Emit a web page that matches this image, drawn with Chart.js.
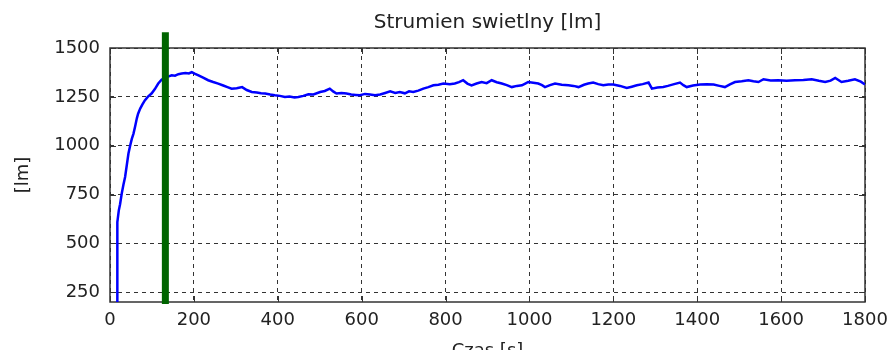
<!DOCTYPE html>
<html lang="pl">
<head>
<meta charset="UTF-8">
<title>Strumien swietlny</title>
<script src="https://cdn.jsdelivr.net/npm/chart.js"></script>
<style>
    html, body { margin: 0; padding: 0; background: #fff; }
    .wrap { width: 893px; height: 350px; overflow: hidden; }
    canvas { display: block; }
</style>
</head>
<body>
<div class="wrap"><canvas id="flux" width="893" height="372"></canvas></div>
<script>
// time of measurement [s]
const times = [
    17, 17, 18, 21, 24, 28, 32, 36, 40, 44,
    48, 52, 56, 60, 64, 67, 72, 77, 83, 90,
    99, 107, 115, 123, 132, 140, 147, 155, 163, 171,
    180, 188, 195, 203, 211, 222, 234, 246, 258, 270,
    280, 290, 302, 315, 326, 338, 350, 360, 370, 382,
    393, 405, 417, 428, 440, 449, 461, 473, 485, 501,
    512, 524, 532, 540, 552, 564, 575, 586, 596, 608,
    620, 632, 644, 656, 668, 680, 691, 703, 713, 723,
    735, 747, 759, 771, 783, 795, 810, 822, 832, 842,
    852, 862, 874, 886, 898, 910, 922, 934, 946, 958,
    970, 982, 990, 997, 1009, 1021, 1030, 1037, 1049, 1061,
    1077, 1093, 1105, 1117, 1130, 1140, 1152, 1164, 1176, 1188,
    1200, 1216, 1232, 1244, 1256, 1270, 1284, 1292, 1305, 1319,
    1330, 1345, 1359, 1367, 1375, 1390, 1407, 1423, 1439, 1453,
    1466, 1478, 1490, 1506, 1522, 1534, 1546, 1558, 1575, 1593,
    1613, 1633, 1653, 1673, 1690, 1705, 1718, 1729, 1744, 1760,
    1776, 1790, 1800
];

// luminous flux [lm]
const flux = [
    200, 450, 609, 669, 700, 755, 800, 840, 900, 960,
    1000, 1035, 1062, 1100, 1140, 1164, 1190, 1210, 1232, 1250,
    1267, 1290, 1318, 1338, 1350, 1355, 1360, 1358, 1366, 1369,
    1372, 1370, 1377, 1368, 1360, 1348, 1335, 1326, 1318, 1308,
    1300, 1292, 1294, 1300, 1285, 1275, 1272, 1268, 1267, 1262,
    1258, 1255, 1249, 1252, 1247, 1249, 1255, 1263, 1262, 1275,
    1280, 1292, 1278, 1267, 1270, 1267, 1262, 1260, 1258, 1265,
    1262, 1258, 1262, 1270, 1278, 1270, 1275, 1268, 1278, 1275,
    1282, 1292, 1300, 1309, 1312, 1318, 1314, 1318, 1325, 1335,
    1318, 1309, 1318, 1326, 1320, 1335, 1325, 1318, 1310, 1300,
    1306, 1309, 1318, 1326, 1322, 1318, 1310, 1300, 1310, 1318,
    1312, 1309, 1306, 1300, 1312, 1318, 1323, 1315, 1309, 1313,
    1313, 1306, 1295, 1302, 1309, 1315, 1323, 1292, 1298, 1300,
    1306, 1315, 1323, 1310, 1300, 1308, 1313, 1315, 1313, 1306,
    1300, 1314, 1326, 1330, 1335, 1330, 1326, 1340, 1334, 1335,
    1332, 1335, 1336, 1340, 1332, 1326, 1333, 1347, 1326, 1332,
    1340, 1328, 1313
];

const xTicks = [0, 200, 400, 600, 800, 1000, 1200, 1400, 1600, 1800];
const yTicks = [250, 500, 750, 1000, 1250, 1500];

// vertical marker (green bar)
const markerTime = 132;
const markerSpan = [190, 1580];

const FONT = 'DejaVu Sans';

// box around the plot + short inward tick marks, matlab style
const frame = {
    id: 'frame',
    beforeDatasetsDraw(chart) {
        const { ctx, chartArea: a, scales: { x, y } } = chart;
        ctx.save();
        ctx.strokeStyle = '#333';
        ctx.lineWidth = 1.5;
        ctx.strokeRect(a.left, a.top, a.right - a.left, a.bottom - a.top);
        ctx.lineWidth = 1;
        ctx.beginPath();
        x.ticks.forEach(t => {
            const px = Math.round(x.getPixelForValue(t.value)) + 0.5;
            ctx.moveTo(px, a.bottom); ctx.lineTo(px, a.bottom - 6);
            ctx.moveTo(px, a.top); ctx.lineTo(px, a.top + 6);
        });
        y.ticks.forEach(t => {
            const py = Math.round(y.getPixelForValue(t.value)) + 0.5;
            ctx.moveTo(a.left, py); ctx.lineTo(a.left + 6, py);
            ctx.moveTo(a.right, py); ctx.lineTo(a.right - 6, py);
        });
        ctx.stroke();
        ctx.restore();
    }
};

new Chart(document.getElementById('flux'), {
    type: 'line',
    data: {
        datasets: [
            {
                data: markerSpan.map(v => ({ x: markerTime, y: v })),
                borderColor: '#006400',
                borderWidth: 7,
                pointRadius: 0,
                clip: false
            },
            {
                data: times.map((t, i) => ({ x: t, y: flux[i] })),
                borderColor: '#0000ff',
                borderWidth: 2.5,
                pointRadius: 0,
                tension: 0
            }
        ]
    },
    options: {
        responsive: false,
        animation: false,
        devicePixelRatio: 1,
        layout: { padding: { top: 4, left: 0, right: 28, bottom: 0 } },
        plugins: {
            legend: { display: false },
            tooltip: { enabled: false },
            title: {
                display: true,
                text: 'Strumien swietlny [lm]',
                fullSize: false,
                color: '#222',
                font: { family: FONT, size: 20, weight: 'normal' },
                padding: { top: 7, bottom: 13 }
            }
        },
        scales: {
            x: {
                type: 'linear',
                min: 0,
                max: 1800,
                afterBuildTicks: s => { s.ticks = xTicks.map(v => ({ value: v })); },
                afterFit: s => {
                    s.height = 70;
                    // let the last label hang into the right margin
                    s.paddingLeft = 0;
                    s.paddingRight = 0;
                },
                ticks: {
                    color: '#222',
                    padding: 8,
                    maxRotation: 0,
                    autoSkip: false,
                    font: { family: FONT, size: 18 },
                    callback: v => String(v)
                },
                grid: { color: '#333', lineWidth: 1, drawTicks: false },
                border: { display: false, dash: [4, 4] },
                title: {
                    display: true,
                    text: 'Czas [s]',
                    color: '#222',
                    font: { family: FONT, size: 18 },
                    padding: { top: 4, bottom: 10 }
                }
            },
            y: {
                min: 200,
                max: 1500,
                afterBuildTicks: s => { s.ticks = yTicks.map(v => ({ value: v })); },
                afterFit: s => { s.width = 110; },
                ticks: {
                    color: '#222',
                    padding: 10,
                    font: { family: FONT, size: 18 },
                    callback: v => String(v)
                },
                grid: { color: '#333', lineWidth: 1, drawTicks: false },
                border: { display: false, dash: [4, 4] },
                title: {
                    display: true,
                    text: '[lm]',
                    color: '#222',
                    font: { family: FONT, size: 18 },
                    padding: { top: 13, bottom: 0 }
                }
            }
        }
    },
    plugins: [frame]
});
</script>
</body>
</html>
